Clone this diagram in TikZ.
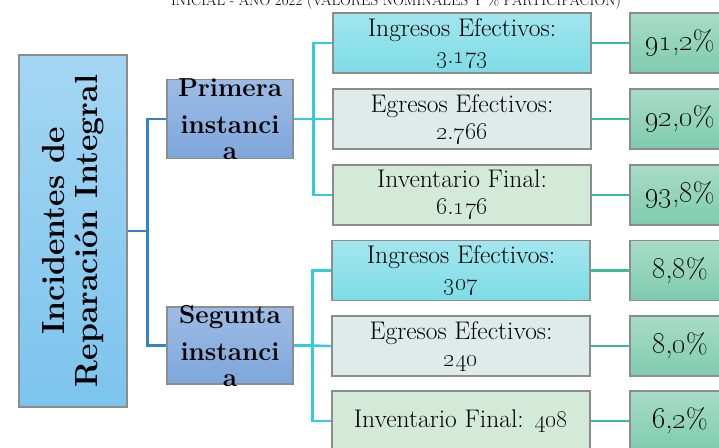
\documentclass[tikz,border=0pt]{standalone}
\usepackage{xcolor}
\definecolor{cLine}{HTML}{8C8C8C}
\definecolor{cMainTop}{HTML}{A4D6F3}
\definecolor{cMainBot}{HTML}{7CC4EE}
\definecolor{cInstTop}{HTML}{9DBCE4}
\definecolor{cInstBot}{HTML}{7EA6DC}
\definecolor{cInTop}{HTML}{A3E6EE}
\definecolor{cInBot}{HTML}{7DDCE5}
\definecolor{cOut}{HTML}{DFEAEB}
\definecolor{cInv}{HTML}{D4EAD9}
\definecolor{cPctTop}{HTML}{A8DCC6}
\definecolor{cPctBot}{HTML}{7FCBB0}
\definecolor{cBlue}{HTML}{2E86C8}
\definecolor{cCyan}{HTML}{33CCDA}
\definecolor{cGreen}{HTML}{3DBB98}
\usepackage{tikz}
\usetikzlibrary{positioning,calc}
\newcommand\onum[1]{\oldstylenums{#1}}
\tikzset{
  node-box/.style={draw=cLine,line width=1.2pt,inner sep=0pt,align=center},
  node-main/.style={node-box,minimum width=108pt,minimum height=352pt,
    top color=cMainTop,bottom color=cMainBot},
  node-inst/.style={node-box,minimum width=126pt,minimum height=79pt,
    top color=cInstTop,bottom color=cInstBot},
  node-val/.style={node-box,minimum width=258pt,minimum height=60pt,
    font=\fontsize{25.5}{27}\selectfont},
  node-in/.style={node-val,top color=cInTop,bottom color=cInBot},
  node-out/.style={node-val,fill=cOut},
  node-inv/.style={node-val,fill=cInv},
  node-pct/.style={node-box,minimum width=100pt,minimum height=60pt,
    top color=cPctTop,bottom color=cPctBot,font=\fontsize{28}{30}\selectfont},
  txt-main/.style={align=center,rotate=90,font=\fontsize{32}{33}\selectfont\bfseries},
  txt-inst/.style={align=center,font=\fontsize{26}{37}\selectfont\bfseries},
  link-main/.style={draw=cBlue,line width=2.4pt},
  link-inst/.style={draw=cCyan,line width=2.4pt},
  link-pct/.style={draw=cGreen,line width=2.4pt},
}

\begin{document}
\begin{tikzpicture}[x=1pt,y=-1pt]
  \useasboundingbox (0,0) rectangle (719,447);
  % titulo cortado arriba
  \node[anchor=base,font=\fontsize{15}{15}\selectfont] (title) at (396,5.5)
    {INICIAL - AÑO 2022 (VALORES NOMINALES Y \% PARTICIPACIÓN)};
  % caja principal
  \node[node-main] (main) at (73,231) {};
  \node[txt-main] (main-txt) at (main.center) {Incidentes de\\Reparación Integral};
  % instancias
  \node[node-inst] (prim) at (230,119) {};
  \node[txt-inst] (prim-txt) at (prim.center) {Primera\\instanci\\[-11pt]a};
  \node[node-inst,minimum height=77pt] (seg) at (230,345.5) {};
  \node[txt-inst] (seg-txt) at (seg.center) {Segunta\\instanci\\[-11pt]a};
  % primera instancia
  \node[node-in]  (p-in)  at (462,43)  {Ingresos Efectivos:\\\onum{3}.\onum{173}};
  \node[node-out] (p-out) at (462,119) {Egresos Efectivos:\\\onum{2}.\onum{766}};
  \node[node-inv] (p-inv) at (462,195) {Inventario Final:\\\onum{6}.\onum{176}};
  \node[node-pct] (p-in-pct)  at (680,43)  {\onum{91},\onum{2}\%};
  \node[node-pct] (p-out-pct) at (680,119) {\onum{92},\onum{0}\%};
  \node[node-pct] (p-inv-pct) at (680,195) {\onum{93},\onum{8}\%};
  % segunda instancia
  \node[node-in]  (s-in)  at (461,270.5) {Ingresos Efectivos:\\\onum{307}};
  \node[node-out] (s-out) at (461,346)   {Egresos Efectivos:\\\onum{240}};
  \node[node-inv] (s-inv) at (461,421)   {Inventario Final: \onum{408}};
  \node[node-pct] (s-in-pct)  at (680,270.5) {\onum{8},\onum{8}\%};
  \node[node-pct] (s-out-pct) at (680,346)   {\onum{8},\onum{0}\%};
  \node[node-pct] (s-inv-pct) at (680,421)   {\onum{6},\onum{2}\%};
  % conectores
  \draw[link-main] (main.east) -- ++(20,0) coordinate (jm) |- (prim.west);
  \draw[link-main] (jm) |- (seg.west);
  \draw[link-inst] (prim.east) -- ++(20,0) coordinate (jp) |- (p-in.west);
  \draw[link-inst] (jp) |- (p-inv.west);
  \draw[link-inst] (jp) -- (p-out.west);
  \draw[link-inst] (seg.east) -- ++(19,0) coordinate (js) |- (s-in.west);
  \draw[link-inst] (js) |- (s-inv.west);
  \draw[link-inst] (js) -- (s-out.west);
  \foreach \r in {p-in,p-out,p-inv,s-in,s-out,s-inv}
    \draw[link-pct] (\r.east) -- (\r-pct.west);
\end{tikzpicture}
\end{document}
